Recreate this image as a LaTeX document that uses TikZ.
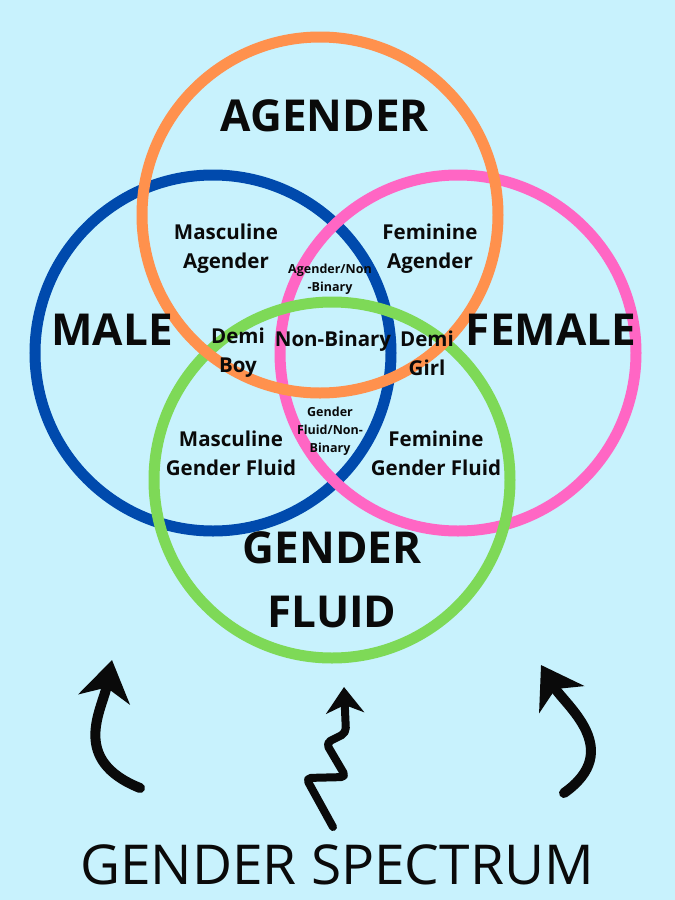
\documentclass[tikz,border=0pt]{standalone}
\usepackage{fontspec}
\setmainfont{Open Sans}
\usepackage{tikz}
\usetikzlibrary{arrows.meta}
\definecolor{Sky}{HTML}{C8F2FD}
\definecolor{AgenderRing}{HTML}{FF914D}
\definecolor{MaleRing}{HTML}{004AAD}
\definecolor{FemaleRing}{HTML}{FF66C4}
\definecolor{FluidRing}{HTML}{7ED957}
\definecolor{Ink}{HTML}{0A0A0A}

\begin{document}
\begin{tikzpicture}[x=1pt,y=-1pt,
  ring/.style={draw=#1,line width=11pt,circle,minimum size=356pt,inner sep=0pt},
  bigname/.style={font=\fontsize{44}{64}\selectfont\bfseries,text=Ink,align=center,inner sep=0pt},
  midname/.style={font=\fontsize{20.5}{29}\selectfont\bfseries,text=Ink,align=center,inner sep=0pt},
  tinyname/.style={font=\fontsize{12.5}{18}\selectfont\bfseries,text=Ink,align=center,inner sep=0pt},
  sketch/.style={draw=Ink,line width=#1,line cap=round,line join=round}]
  \fill[Sky] (0,0) rectangle (675,900);
  % the four rings
  \node[ring=MaleRing] (male) at (213,353) {};
  \node[ring=FemaleRing] (female) at (458,353) {};
  \node[ring=FluidRing] (fluid) at (332,480) {};
  \node[ring=AgenderRing] (agender) at (320,215) {};
  % ring names
  \node[bigname] (agendername) at (325,116) {AGENDER};
  \node[bigname] (malename) at (112,330) {MALE};
  \node[bigname] (femalename) at (551,330) {FEMALE};
  \node[bigname] (fluidname) at (332,580) {GENDER\\FLUID};
  % overlaps
  \node[midname] (mascagender) at (226,249) {Masculine\\Agender};
  \node[midname] (femagender) at (430,249) {Feminine\\Agender};
  \node[tinyname] (agendernb) at (330,279) {Agender/Non\\-Binary};
  \node[midname] (demiboy) at (238,353) {Demi\\Boy};
  \node[midname] (nonbinary) at (333,341) {Non-Binary};
  \node[midname] (demigirl) at (427,353) {Demi\\Girl};
  \node[tinyname] (fluidnb) at (330,431) {Gender\\Fluid/Non-\\Binary};
  \node[midname] (mascfluid) at (231,453) {Masculine\\Gender Fluid};
  \node[midname] (femfluid) at (436,453) {Feminine\\Gender Fluid};
  % title and the three arrows
  \node[font=\fontsize{55}{60}\selectfont,text=Ink,inner sep=0pt] (spectrum) at (337,865) {GENDER SPECTRUM};
  \coordinate (lefttail) at (140,788);
  \coordinate (lefttip) at (112,660);
  \coordinate (midtail) at (333,827);
  \coordinate (midtip) at (344,687);
  \coordinate (righttail) at (564,793);
  \coordinate (righttip) at (541,665);
  \draw[sketch=10pt,-{Stealth[length=40pt,width=52pt,inset=12pt]}] (lefttail) .. controls (70,760) and (102,710) .. (lefttip);
  \draw[sketch=8pt,rounded corners=5pt,-{Stealth[length=26pt,width=38pt,inset=8pt]}] (midtail) -- (306,778) -- (346,777) -- (326,743) -- (346,733) -- (midtip);
  \draw[sketch=10pt,-{Stealth[length=40pt,width=52pt,inset=12pt]}] (righttail) .. controls (625,750) and (565,705) .. (righttip);
\end{tikzpicture}
\end{document}
